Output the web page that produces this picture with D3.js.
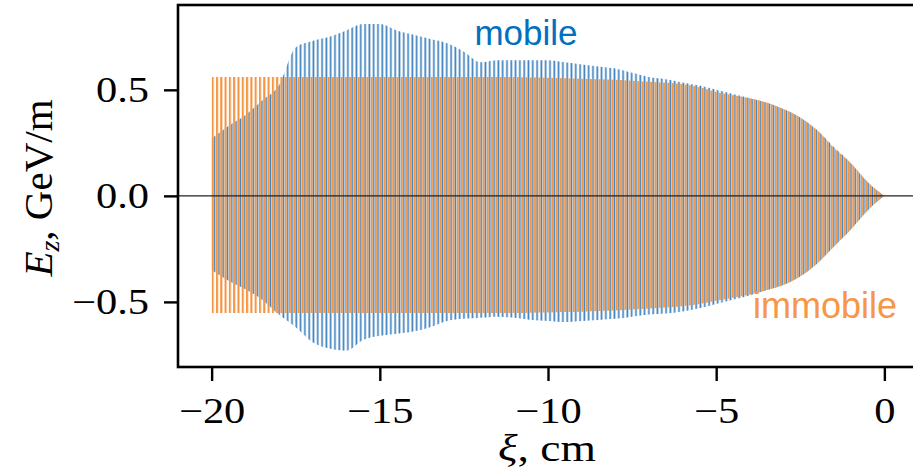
<!DOCTYPE html>
<html>
<head>
<meta charset="utf-8">
<script src="https://cdn.jsdelivr.net/npm/d3@7"></script>
<style>
  body { margin: 0; background: #fff; }
  svg { display: block; }
  .tick text { font-family: "Liberation Serif", serif; }
</style>
</head>
<body>
<div id="chart"></div>
<script>
// Chart size
var width = 913,
    height = 474;

// plot box (the right edge runs past the picture)
var box = {left: 178, right: 918, top: 5, bottom: 367};

// Envelope data, every 0.5 cm
var xi = [-20,-19.5,-19,-18.5,-18,-17.5,-17,-16.5,-16,-15.5,-15,-14.5,-14,-13.5,-13,-12.5,-12,-11.5,-11,-10.5,
          -10,-9.5,-9,-8.5,-8,-7.5,-7,-6.5,-6,-5.5,-5,-4.5,-4,-3.5,-3,-2.5,-2,-1.5,-1,-0.5,0];

var mobileTop = [0.27,0.33,0.38,0.45,0.52,0.70,0.73,0.75,0.78,0.81,0.81,0.78,0.76,0.74,0.72,0.68,0.63,0.64,0.64,0.64,
                 0.64,0.63,0.62,0.61,0.60,0.58,0.56,0.55,0.535,0.52,0.50,0.48,0.46,0.44,0.41,0.37,0.31,0.23,0.155,0.065,0];
var mobileBot = [-0.35,-0.40,-0.44,-0.49,-0.56,-0.62,-0.69,-0.72,-0.73,-0.68,-0.66,-0.65,-0.64,-0.62,-0.59,-0.58,-0.575,-0.57,-0.575,-0.585,
                 -0.59,-0.595,-0.59,-0.585,-0.58,-0.57,-0.56,-0.555,-0.545,-0.53,-0.51,-0.49,-0.47,-0.445,-0.42,-0.38,-0.32,-0.24,-0.16,-0.07,0];

var immobileTop = [0.56,0.56,0.56,0.56,0.56,0.56,0.56,0.56,0.56,0.56,0.56,0.56,0.56,0.56,0.56,0.56,0.56,0.56,0.56,0.558,
                   0.557,0.555,0.552,0.55,0.547,0.543,0.538,0.533,0.526,0.512,0.49,0.475,0.46,0.44,0.41,0.37,0.31,0.226,0.156,0.066,0];
var immobileBot = [-0.552,-0.552,-0.552,-0.552,-0.552,-0.552,-0.552,-0.552,-0.552,-0.552,-0.552,-0.552,-0.552,-0.552,-0.552,-0.552,-0.552,-0.552,-0.552,-0.551,
                   -0.55,-0.548,-0.546,-0.543,-0.54,-0.536,-0.531,-0.526,-0.52,-0.51,-0.495,-0.48,-0.465,-0.445,-0.42,-0.38,-0.32,-0.24,-0.16,-0.07,0];

// Tick labels
var xTicks = [-20,-15,-10,-5,0],
    yTicks = [-0.5,0,0.5];

var blue = "#3f82bf",
    orange = "#f39646",
    period = 4.3;   // spacing of the oscillation strokes, px

var svg = d3.select('#chart').append('svg')
    .attr('width', width)
    .attr('height', height);

var x = d3.scaleLinear().domain([-21, 1]).range([box.left, box.right]);
var y = d3.scaleLinear().domain([-0.807, 0.90]).range([box.bottom, box.top]);

// stroke textures
var defs = svg.append("defs");
function stripes(id, color, offset, w) {
  var p = defs.append("pattern")
      .attr("id", id)
      .attr("patternUnits", "userSpaceOnUse")
      .attr("x", x(-20))
      .attr("y", 0)
      .attr("width", period)
      .attr("height", height);
  p.append("rect")
      .attr("x", offset).attr("y", 0)
      .attr("width", w).attr("height", height)
      .attr("fill", color);
}
stripes("blueLines", blue, 2.1, 1.7);
stripes("orangeLines", orange, 0, 2.1);

defs.append("clipPath").attr("id", "plotClip")
  .append("rect")
    .attr("x", box.left).attr("y", box.top)
    .attr("width", box.right - box.left).attr("height", box.bottom - box.top);

function band(top, bot) {
  return d3.area()
      .x(function(d, i) { return x(xi[i]); })
      .y0(function(d, i) { return y(bot[i]); })
      .y1(function(d, i) { return y(top[i]); })
      .curve(d3.curveMonotoneX)(xi);
}

var plot = svg.append("g").attr("clip-path", "url(#plotClip)");

plot.append("path")
    .attr("d", band(mobileTop, mobileBot))
    .attr("fill", "url(#blueLines)");

plot.append("path")
    .attr("d", band(immobileTop, immobileBot))
    .attr("fill", "url(#orangeLines)");

// zero line
plot.append("line")
    .attr("x1", box.left).attr("x2", box.right)
    .attr("y1", y(0)).attr("y2", y(0))
    .attr("stroke", "#222")
    .attr("stroke-width", 1.3);

// Axes
var xAxis = svg.append("g")
    .attr("transform", "translate(0," + box.bottom + ")")
    .call(d3.axisBottom(x).tickValues(xTicks).tickFormat(d3.format("d")).tickSize(14).tickPadding(16));

var yAxis = svg.append("g")
    .attr("transform", "translate(" + box.left + ",0)")
    .call(d3.axisLeft(y).tickValues(yTicks).tickFormat(d3.format(".1f")).tickSize(14).tickPadding(15));

[xAxis, yAxis].forEach(function(a) {
  a.select(".domain").remove();
  a.selectAll(".tick line").attr("stroke", "#000").attr("stroke-width", 2.4);
  a.selectAll(".tick text").attr("font-size", 36).attr("fill", "#000");
});

// frame
svg.append("rect")
    .attr("x", box.left).attr("y", box.top)
    .attr("width", box.right - box.left).attr("height", box.bottom - box.top)
    .attr("fill", "none")
    .attr("stroke", "#000")
    .attr("stroke-width", 2.6);

// Axis titles
var xlab = svg.append("text")
    .attr("x", 547).attr("y", 461)
    .attr("text-anchor", "middle")
    .attr("font-family", "Liberation Serif, serif")
    .attr("font-size", 38)
    .html('<tspan font-style="italic">ξ</tspan>, cm');

var ylab = svg.append("text")
    .attr("transform", "translate(52,188) rotate(-90)")
    .attr("text-anchor", "middle")
    .attr("font-family", "Liberation Serif, serif")
    .attr("font-size", 41);
ylab.append("tspan").attr("font-style", "italic").text("E");
ylab.append("tspan").attr("font-style", "italic").attr("font-size", 28).attr("dy", 7).text("z");
ylab.append("tspan").attr("dy", -7).text(",  GeV/m");

// the figure is a little wider than tall in the original, stretch serif text
svg.selectAll(".tick text").each(function() {
  var w = this.getComputedTextLength();
  d3.select(this).attr("textLength", w * 1.18).attr("lengthAdjust", "spacingAndGlyphs");
});
xlab.attr("textLength", xlab.node().getComputedTextLength() * 1.2).attr("lengthAdjust", "spacingAndGlyphs");

// series labels
svg.append("text")
    .attr("x", 526).attr("y", 45)
    .attr("text-anchor", "middle")
    .attr("font-family", "Liberation Sans, Arial, sans-serif")
    .attr("font-size", 35)
    .attr("fill", "#0070c0")
    .text("mobile");

svg.append("text")
    .attr("x", 825).attr("y", 318)
    .attr("text-anchor", "middle")
    .attr("font-family", "Liberation Sans, Arial, sans-serif")
    .attr("font-size", 36)
    .attr("fill", "#f79646")
    .text("immobile");
</script>
</body>
</html>
